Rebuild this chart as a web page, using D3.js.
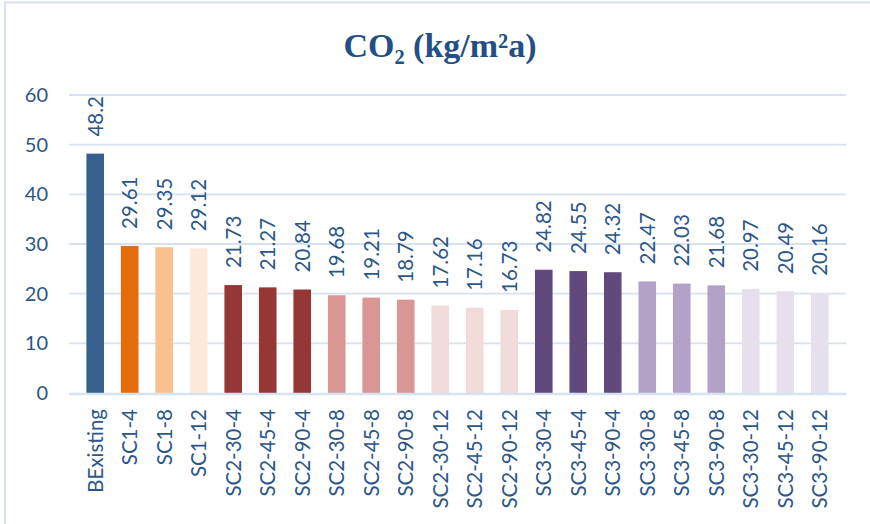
<!DOCTYPE html>
<html>
<head>
<meta charset="utf-8">
<script src="https://cdn.jsdelivr.net/npm/d3@7/dist/d3.min.js"></script>
<style>
  html, body { margin: 0; padding: 0; background: #fff; }
  svg { display: block; }
</style>
</head>
<body>
<svg id="chart" width="870" height="524"></svg>
<script>
const categories = ["BExisting","SC1-4","SC1-8","SC1-12","SC2-30-4","SC2-45-4","SC2-90-4","SC2-30-8","SC2-45-8","SC2-90-8","SC2-30-12","SC2-45-12","SC2-90-12","SC3-30-4","SC3-45-4","SC3-90-4","SC3-30-8","SC3-45-8","SC3-90-8","SC3-30-12","SC3-45-12","SC3-90-12"];
const values = [48.2,29.61,29.35,29.12,21.73,21.27,20.84,19.68,19.21,18.79,17.62,17.16,16.73,24.82,24.55,24.32,22.47,22.03,21.68,20.97,20.49,20.16];
const valueLabels = ["48.2","29.61","29.35","29.12","21.73","21.27","20.84","19.68","19.21","18.79","17.62","17.16","16.73","24.82","24.55","24.32","22.47","22.03","21.68","20.97","20.49","20.16"];
const barColors = ["#37608F","#E46C0A","#FAC090","#FDE9D9","#953735","#953735","#953735","#D99694","#D99694","#D99694","#F2DCDB","#F2DCDB","#F2DCDB","#604A7B","#604A7B","#604A7B","#B3A2C7","#B3A2C7","#B3A2C7","#E6E0EC","#E6E0EC","#E6E0EC"];
const yTicks = [0,10,20,30,40,50,60];
const title = "CO₂ (kg/m²a)";

const svg = d3.select("#chart");
const textColor = "#2B5689";
const gridColor = "#D6E2F2";

// outer frame
svg.append("rect").attr("x",5).attr("y",2.5).attr("width",880).attr("height",540)
  .attr("fill","none").attr("stroke",gridColor).attr("stroke-width",2);

const x = d3.scaleBand().domain(categories).range([69.5, 845.5]).padding(0.49);
const y = d3.scaleLinear().domain([0,60]).range([393, 95]);

// gridlines
svg.append("g").selectAll("line").data(yTicks.filter(t => t !== 0)).join("line")
  .attr("x1",69).attr("x2",846)
  .attr("y1",d => y(d)).attr("y2",d => y(d))
  .attr("stroke",gridColor).attr("stroke-width",1.8);

// y axis labels via d3 axis
const yAxis = svg.append("g").attr("transform","translate(48,0)")
  .call(d3.axisLeft(y).tickValues(yTicks).tickSize(0).tickPadding(0).tickFormat(d3.format("d")));
yAxis.select(".domain").remove();
yAxis.selectAll("text").attr("fill",textColor).style("font-family","Lato, 'Open Sans', sans-serif").style("font-size","20px");

// bars
svg.append("g").selectAll("rect").data(values).join("rect")
  .attr("x",(d,i) => x(categories[i]))
  .attr("width",x.bandwidth())
  .attr("y",d => y(d))
  .attr("height",d => y(0) - y(d))
  .attr("fill",(d,i) => barColors[i]);

// zero axis line
svg.append("line").attr("x1",69).attr("x2",846).attr("y1",y(0)+1).attr("y2",y(0)+1)
  .attr("stroke",gridColor).attr("stroke-width",2.6);

// value labels
svg.append("g").selectAll("text").data(values).join("text")
  .attr("transform",(d,i) => `translate(${x(categories[i]) + x.bandwidth()/2},${y(d) - 17}) rotate(-90)`)
  .attr("text-anchor","start")
  .attr("dy","0.36em")
  .attr("fill",textColor)
  .style("font-family","Lato, 'Open Sans', sans-serif")
  .style("font-size","20.5px")
  .text((d,i) => valueLabels[i]);

// x axis labels
const xAxis = svg.append("g").attr("transform","translate(0,409)")
  .call(d3.axisBottom(x).tickSize(0).tickPadding(0));
xAxis.select(".domain").remove();
xAxis.selectAll("text")
  .attr("transform","rotate(-90)")
  .attr("text-anchor","end")
  .attr("x",0).attr("y",0).attr("dy","0.36em")
  .attr("fill",textColor)
  .style("font-family","Lato, 'Open Sans', sans-serif")
  .style("font-size","20.5px");

// title
svg.append("text").attr("x",440).attr("y",57).attr("text-anchor","middle")
  .attr("fill","#244F86")
  .style("font-family","'Liberation Serif', 'Times New Roman', serif")
  .style("font-weight","bold").style("font-size","34px")
  .text(title);
</script>
</body>
</html>
